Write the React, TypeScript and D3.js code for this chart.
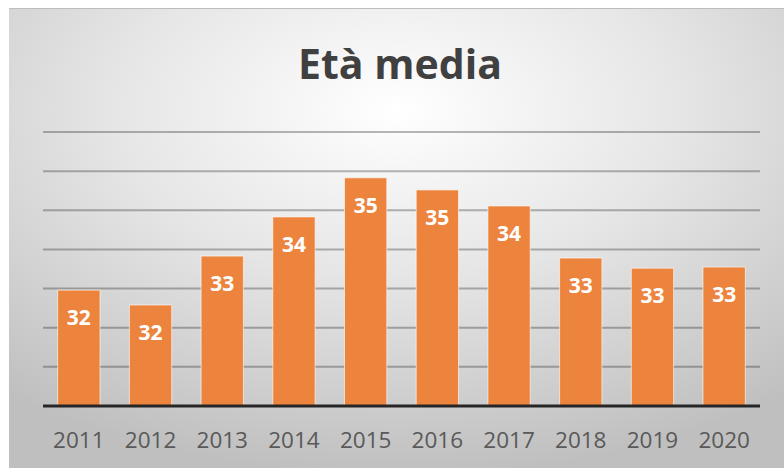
import React, { useEffect, useRef } from 'react';
import * as d3 from 'd3';

// years on the category axis
const years = ['2011', '2012', '2013', '2014', '2015', '2016', '2017', '2018', '2019', '2020'];
// average age per year
const avgAge = [31.96, 31.58, 32.83, 33.83, 34.83, 34.52, 34.11, 32.78, 32.52, 32.55];
// hidden value axis range and gridline ticks
const yDomain = [29, 36];
const yTicks = [30, 31, 32, 33, 34, 35, 36];
const title = 'Età media';

const W = 784;
const H = 471;

const App = () => {
  const svgRef = useRef<SVGSVGElement>(null);

  useEffect(() => {
    const svg = d3.select(svgRef.current);
    svg.selectAll('*').remove();

    const plot = { left: 43, right: 760, top: 132, bottom: 406 };

    // background gradient, light in the upper middle, grey toward edges
    const defs = svg.append('defs');
    const grad = defs.append('radialGradient')
      .attr('id', 'bg')
      .attr('cx', '50%').attr('cy', '22%').attr('r', '80%')
      .attr('fx', '50%').attr('fy', '22%');
    grad.append('stop').attr('offset', '0%').attr('stop-color', '#ffffff');
    grad.append('stop').attr('offset', '45%').attr('stop-color', '#e6e6e6');
    grad.append('stop').attr('offset', '100%').attr('stop-color', '#bfbfbf');

    svg.append('rect')
      .attr('x', 9).attr('y', 8)
      .attr('width', W - 9).attr('height', 460)
      .attr('fill', 'url(#bg)');
    svg.append('line')
      .attr('x1', 9).attr('x2', W).attr('y1', 8.5).attr('y2', 8.5)
      .attr('stroke', '#bdbdbd').attr('stroke-width', 1);

    const x = d3.scaleBand()
      .domain(years)
      .range([plot.left, plot.right])
      .paddingInner(0.41)
      .paddingOuter(0.205);

    const y = d3.scaleLinear()
      .domain(yDomain)
      .range([plot.bottom, plot.top]);

    // gridlines
    svg.append('g')
      .selectAll('line')
      .data(yTicks)
      .enter().append('line')
        .attr('x1', plot.left).attr('x2', plot.right)
        .attr('y1', d => y(d)).attr('y2', d => y(d))
        .attr('stroke', 'rgba(0,0,0,0.28)')
        .attr('stroke-width', 2);

    // bars
    svg.append('g')
      .selectAll('rect')
      .data(avgAge)
      .enter().append('rect')
        .attr('x', (d, i) => x(years[i]))
        .attr('y', d => y(d))
        .attr('width', x.bandwidth())
        .attr('height', d => plot.bottom - y(d))
        .attr('fill', '#EC843E')
        .attr('stroke', 'rgba(255,255,255,0.6)')
        .attr('stroke-width', 1);

    // data labels
    svg.append('g')
      .selectAll('text')
      .data(avgAge)
      .enter().append('text')
        .attr('x', (d, i) => x(years[i]) + x.bandwidth() / 2)
        .attr('y', d => y(d) + 35)
        .attr('text-anchor', 'middle')
        .attr('font-family', 'Open Sans, sans-serif')
        .attr('font-weight', 'bold')
        .attr('font-size', 21)
        .attr('fill', '#ffffff')
        .text(d => d3.format('.0f')(d));

    // category axis baseline
    svg.append('line')
      .attr('x1', plot.left).attr('x2', plot.right)
      .attr('y1', plot.bottom).attr('y2', plot.bottom)
      .attr('stroke', '#262626')
      .attr('stroke-width', 3);

    // year labels
    svg.append('g')
      .selectAll('text')
      .data(years)
      .enter().append('text')
        .attr('x', d => x(d) + x.bandwidth() / 2)
        .attr('y', 448)
        .attr('text-anchor', 'middle')
        .attr('font-family', 'Open Sans, sans-serif')
        .attr('font-size', 22.5)
        .attr('fill', '#595959')
        .text(d => d);

    // title
    svg.append('text')
      .attr('x', 400)
      .attr('y', 79)
      .attr('text-anchor', 'middle')
      .attr('font-family', 'Open Sans, sans-serif')
      .attr('font-weight', 'bold')
      .attr('font-size', 41)
      .attr('fill', '#404040')
      .text(title);
  }, []);

  return (
    <svg
      ref={svgRef}
      width={W}
      height={H}
      style={{ position: 'absolute', left: 0, top: 0, background: 'white', display: 'block' }}
    />
  );
};

export default App;
